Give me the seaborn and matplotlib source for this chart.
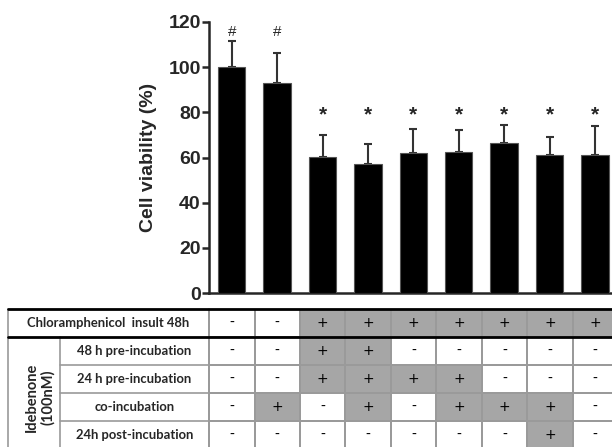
import numpy as np
import matplotlib
matplotlib.use('Agg')
import matplotlib.pyplot as plt
from matplotlib.colors import ListedColormap
import seaborn as sns

sns.set_style('ticks')
plt.rcParams['font.family'] = ['Liberation Sans', 'DejaVu Sans']

# bar data (cell viability, % of control) and upper SD
groups = ['G1', 'G2', 'G3', 'G4', 'G5', 'G6', 'G7', 'G8', 'G9']
viability = [100.0, 92.9, 60.4, 57.1, 62.1, 62.6, 66.3, 61.0, 61.3]
sd = [11.6, 13.5, 9.6, 8.9, 10.4, 9.4, 8.1, 8.2, 12.7]
marks = ['#', '#', '*', '*', '*', '*', '*', '*', '*']

# treatment table
row_labels = ['Chloramphenicol  insult 48h', '48 h pre-incubation', '24 h pre-incubation',
              'co-incubation', '24h post-incubation']
chloramphenicol = ['-', '-', '+', '+', '+', '+', '+', '+', '+']
pre_48h = ['-', '-', '+', '+', '-', '-', '-', '-', '-']
pre_24h = ['-', '-', '+', '+', '+', '+', '-', '-', '-']
co_inc = ['-', '+', '-', '+', '-', '+', '+', '+', '-']
post_24h = ['-', '-', '-', '-', '-', '-', '-', '+', '-']

W, H = 612, 447
fig = plt.figure(figsize=(W / 100, H / 100), dpi=100)

# --- bar chart ---
col_px = 45.4
ax = fig.add_axes([209 / W, (H - 293) / H, 9 * col_px / W, (293 - 22) / H])
sns.barplot(x=groups, y=viability, color='black', saturation=1, width=0.6,
            edgecolor='#555555', linewidth=0.8, errorbar=None, ax=ax)
for p in ax.patches:
    p.set_zorder(3)
# upper-only error bars, behind the bars so the lower cap is hidden
ax.errorbar(np.arange(len(groups)), viability, yerr=[np.zeros(len(sd)), sd], fmt='none',
            ecolor='#333333', elinewidth=1.5, capsize=3, capthick=1.5, zorder=1)
mark_y = {'#': 115.5, '*': 79}
for i, m in enumerate(marks):
    if m == '#':
        ax.text(i, mark_y[m], m, ha='center', va='center', fontsize=11)
    else:
        ax.text(i, mark_y[m], m, ha='center', va='center', fontsize=15, fontweight='bold')

ax.set_ylim(0, 120)
ax.set_xlim(-0.5, 8.5)
ax.set_yticks(range(0, 121, 20))
ax.set_xticks([])
ax.set_xlabel('')
ax.set_ylabel('Cell viability (%)', fontsize=14, fontweight='bold', labelpad=8)
for lab in ax.get_yticklabels():
    lab.set_fontweight('bold')
ax.tick_params(axis='y', labelsize=14, width=1.8, length=5, pad=1)
sns.despine(ax=ax)
ax.spines['left'].set_linewidth(1.8)
ax.spines['bottom'].set_linewidth(1.8)

# --- table ---
table = [chloramphenicol, pre_48h, pre_24h, co_inc, post_24h]
shade = np.array([[1 if v == '+' else 0 for v in row] for row in table])
annot = np.array(table)
left_units = (209 - 8) / col_px
tax = fig.add_axes([8 / W, (H - 449) / H, (618 - 8) / W, 140 / H])
sns.heatmap(shade, ax=tax, cmap=ListedColormap(['white', '#a6a6a6']), vmin=0, vmax=1,
            cbar=False, annot=annot, fmt='', linewidths=1.2, linecolor='#9a9a9a',
            xticklabels=False, yticklabels=False,
            annot_kws=dict(fontsize=10, color='black', family='DejaVu Sans'))
tax.set_xlim(-left_units, 9)
tax.set_ylim(5, 0)
tax.axis('off')

split = (60 - 209) / col_px
tfont = dict(family=['Lato', 'DejaVu Sans'], fontweight='bold', fontsize=9.4)
tax.text(-left_units / 2, 0.5, row_labels[0], ha='center', va='center', **tfont)
for r in range(1, 5):
    tax.text(split / 2, r + 0.5, row_labels[r], ha='center', va='center', **tfont)
tax.text((40 - 209) / col_px, 3.14, 'Idebenone\n(100nM)', ha='center', va='center',
         rotation=90, linespacing=1.15, family=['Lato', 'DejaVu Sans'],
         fontweight='bold', fontsize=10.5)

gl = dict(color='#9a9a9a', lw=1.2, clip_on=False)
tax.plot([-left_units, -left_units], [0, 5], **gl)
tax.plot([split, split], [1, 5], **gl)
tax.plot([0, 0], [0, 5], **gl)
for r in range(2, 5):
    tax.plot([split, 0], [r, r], **gl)
for r in (0, 1):
    tax.plot([-left_units, 9], [r, r], color='black', lw=2, clip_on=False)

fig.savefig('out.png', dpi=100)
